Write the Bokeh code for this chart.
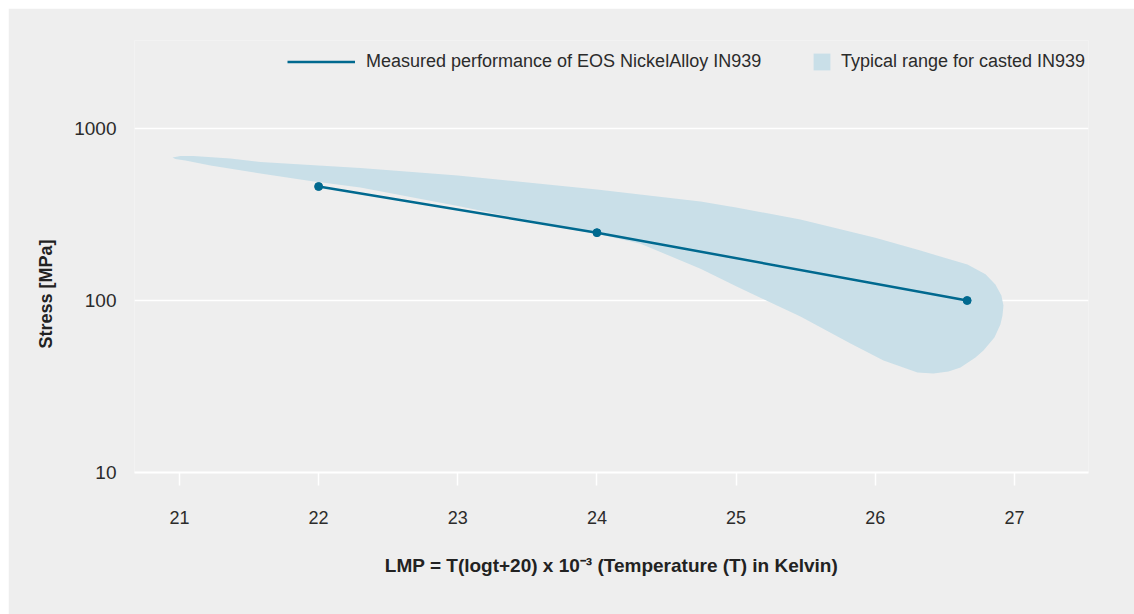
from bokeh.plotting import figure
from bokeh.models import (FixedTicker, CustomJSTickFormatter, Legend, LegendItem, Range1d, Title)
from bokeh.embed import file_html
from bokeh.resources import INLINE

# ---- data ----
lmp_ticks = [21, 22, 23, 24, 25, 26, 27]
stress_ticks = [10, 100, 1000]

measured_lmp = [22.0, 24.0, 26.66]
measured_stress = [460, 248, 100]

# typical range for casted IN939 (closed outline: upper edge left->right, lower edge right->left)
band_lmp = [20.95, 21.007, 21.10, 21.366, 21.582, 22.0, 22.30, 23.0, 24.0, 24.744, 25.0,
            25.462, 26.0, 26.324, 26.662, 26.792, 26.863, 26.906, 26.921,
            26.914, 26.899, 26.856, 26.777, 26.72, 26.612, 26.526, 26.418, 26.303,
            26.059, 25.822, 25.462, 25.0, 24.744, 24.313, 24.025, 23.738, 23.019,
            22.30, 21.941, 21.582, 21.223, 21.043, 20.971]
band_stress = [678, 692, 692, 669, 639, 609, 589, 533, 442, 376, 347,
               296, 232, 195, 162, 142, 124, 107, 93.5,
               81.8, 72.5, 60.9, 51.2, 46.6, 40.8, 38.7, 37.6, 38.1,
               44.8, 56.2, 80.7, 121, 153, 214, 242, 266, 352,
               454, 495, 547, 609, 652, 665]

line_label = "Measured performance of EOS NickelAlloy IN939"
band_label = "Typical range for casted IN939"
x_title = "LMP = T(logt+20) x 10\u207b\u00b3 (Temperature (T) in Kelvin)"
y_title = "Stress [MPa]"

FONT = "Liberation Sans"
BG = "#eeeeee"
LINE_C = "#00698f"
BAND_C = "#c9dfe8"
TXT = "#2b2b2b"

p = figure(width=1126, height=606, output_backend="svg", toolbar_location=None,
           x_range=Range1d(20.677, 27.532), y_range=Range1d(10, 3249),
           y_axis_type="log",
           min_border_left=126, min_border_right=46, min_border_top=32,
           min_border_bottom=142,
           background_fill_color=BG, border_fill_color=BG, outline_line_color=None)
p.margin = (8, 0, 0, 8)

# grid
p.xgrid.grid_line_color = None
p.ygrid.grid_line_color = "white"
p.ygrid.grid_line_width = 1.5
p.ygrid.minor_grid_line_color = None

# x axis
xa = p.xaxis[0]
xa.ticker = FixedTicker(ticks=lmp_ticks)
xa.axis_line_color = "white"
xa.axis_line_width = 2
xa.major_tick_line_color = "white"
xa.major_tick_line_width = 1.5
xa.major_tick_in = 0
xa.major_tick_out = 13
xa.minor_tick_line_color = None
xa.major_label_text_font = FONT
xa.major_label_text_font_size = "18px"
xa.major_label_text_color = TXT
xa.major_label_standoff = 25
xa.axis_label = x_title
xa.axis_label_text_font = FONT
xa.axis_label_text_font_style = "bold"
xa.axis_label_text_font_size = "19px"
xa.axis_label_text_color = "#222222"
xa.axis_label_standoff = 28

# y axis
ya = p.yaxis[0]
ya.ticker = FixedTicker(ticks=stress_ticks)
ya.formatter = CustomJSTickFormatter(code="return Math.round(tick).toString();")
ya.axis_line_color = None
ya.major_tick_line_color = None
ya.minor_tick_line_color = None
ya.major_tick_in = 0
ya.major_tick_out = 0
ya.major_label_text_font = FONT
ya.major_label_text_font_size = "19px"
ya.major_label_text_color = TXT
ya.major_label_standoff = 18

# y title, anchored along the 10..1000 span
ytitle = Title(text=y_title, align="left", offset=124, standoff=32,
               text_font=FONT, text_font_style="bold", text_font_size="18px",
               text_color="#222222")
p.add_layout(ytitle, "left")

# glyphs
r_band = p.patch(band_lmp, band_stress, fill_color=BAND_C, line_color=None)
r_line = p.line(measured_lmp, measured_stress, line_color=LINE_C, line_width=2.5)
p.scatter(measured_lmp, measured_stress, size=8, fill_color=LINE_C, line_color=LINE_C)

# legends (top right, inside the frame)
common = dict(orientation="horizontal", padding=0, margin=0, spacing=0,
              border_line_color=None, background_fill_alpha=0,
              label_text_font=FONT, label_text_font_size="18px",
              label_text_color=TXT, label_height=21, glyph_height=21)
leg1 = Legend(items=[LegendItem(label=line_label, renderers=[r_line])],
              location=(153, 400.5), glyph_width=68, label_standoff=11, **common)
leg2 = Legend(items=[LegendItem(label=band_label, renderers=[r_band])],
              location=(677, 400.5), glyph_width=21, label_standoff=9, **common)
p.add_layout(leg1)
p.add_layout(leg2)

open("out.html", "w").write(file_html(p, INLINE))
